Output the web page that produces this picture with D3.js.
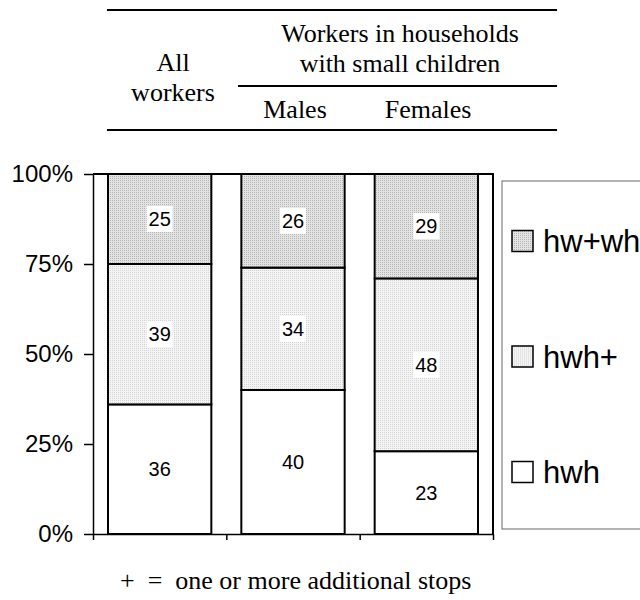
<!DOCTYPE html>
<html>
<head>
<meta charset="utf-8">
<script src="https://cdn.jsdelivr.net/npm/d3@7"></script>
<style>
  body { margin: 0; background: #fff; }
  svg { display: block; }
  .serif { font-family: "Liberation Serif", "Times New Roman", serif; }
  .sans { font-family: "Liberation Sans", Arial, sans-serif; }
</style>
</head>
<body>
<svg id="chart" width="640" height="600"></svg>
<script>
// groups on the x axis
const categories = ["All workers", "Males", "Females"];
// series (bottom to top)
const seriesNames = ["hwh", "hwh+", "hw+wh"];
const hwh      = [36, 40, 23];
const hwhPlus  = [39, 34, 48];
const hwPlusWh = [25, 26, 29];
const yTicks   = [0, 25, 50, 75, 100];

const rows = categories.map((c, i) => ({
  cat: c, "hwh": hwh[i], "hwh+": hwhPlus[i], "hw+wh": hwPlusWh[i]
}));

const svg = d3.select("#chart");

// fill patterns (dotted grey textures)
const defs = svg.append("defs");
function dotPattern(id, bg, dot) {
  const p = defs.append("pattern")
    .attr("id", id).attr("patternUnits", "userSpaceOnUse")
    .attr("width", 2).attr("height", 2);
  p.append("rect").attr("width", 2).attr("height", 2).attr("fill", bg);
  p.append("rect").attr("width", 1).attr("height", 1).attr("fill", dot);
}
dotPattern("pTop", "#e4e4e4", "#b4b4b4");
dotPattern("pMid", "#f4f4f4", "#d4d4d4");
const fills = { "hwh": "#ffffff", "hwh+": "url(#pMid)", "hw+wh": "url(#pTop)" };

// plot area
const plot = { left: 93, top: 174, right: 493, bottom: 534 };

const x = d3.scaleBand()
  .domain(categories)
  .range([plot.left, plot.right])
  .paddingInner(0.225)
  .paddingOuter(0.1125);

const xEdges = d3.scaleLinear().domain([0, categories.length]).range([plot.left, plot.right]);

const y = d3.scaleLinear().domain([0, 100]).range([plot.bottom, plot.top]);

// frame (top and right)
svg.append("path")
  .attr("d", `M${plot.left},${plot.top}H${plot.right}V${plot.bottom}`)
  .attr("fill", "none").attr("stroke", "#000").attr("stroke-width", 2);

// y axis
const yAxis = svg.append("g")
  .attr("transform", `translate(${plot.left},0)`)
  .call(d3.axisLeft(y).tickValues(yTicks).tickFormat(d => d + "%").tickSize(9).tickPadding(11).tickSizeOuter(0));
yAxis.selectAll("path, line").attr("stroke", "#000").attr("stroke-width", 1.5);
yAxis.selectAll("text").attr("class", "sans").attr("font-size", 24).attr("fill", "#000");

// x axis (ticks between groups)
const xAxis = svg.append("g")
  .attr("transform", `translate(0,${plot.bottom})`)
  .call(d3.axisBottom(xEdges).tickValues(d3.range(categories.length + 1)).tickFormat("").tickSize(6).tickSizeOuter(0));
xAxis.selectAll("path, line").attr("stroke", "#000").attr("stroke-width", 1.5);

// stacked bars
const stacked = d3.stack().keys(seriesNames)(rows);

const layers = svg.append("g").selectAll("g")
  .data(stacked)
  .join("g");

layers.selectAll("rect")
  .data(s => s.map(d => Object.assign(d, { key: s.key })))
  .join("rect")
  .attr("x", d => x(d.data.cat))
  .attr("y", d => y(d[1]))
  .attr("width", x.bandwidth())
  .attr("height", d => y(d[0]) - y(d[1]))
  .attr("fill", d => fills[d.key])
  .attr("stroke", "#000")
  .attr("stroke-width", 2);

// value labels with white boxes
const labels = svg.append("g").selectAll("g")
  .data(stacked.flatMap(s => s))
  .join("g")
  .attr("transform", d => `translate(${x(d.data.cat) + x.bandwidth() / 2},${y((d[0] + d[1]) / 2)})`);

labels.append("rect")
  .attr("x", -13).attr("y", -13).attr("width", 26).attr("height", 26)
  .attr("fill", "#fff");

labels.append("text")
  .attr("class", "sans")
  .attr("text-anchor", "middle")
  .attr("dy", "0.36em")
  .attr("font-size", 20)
  .text(d => d[1] - d[0]);

// legend
const legend = svg.append("g");
legend.append("rect")
  .attr("x", 502).attr("y", 181).attr("width", 200).attr("height", 348)
  .attr("fill", "#fff").attr("stroke", "#666").attr("stroke-width", 1);

const legendY = d3.scalePoint().domain(seriesNames.slice().reverse()).range([241, 472]);

const items = legend.selectAll("g")
  .data(seriesNames)
  .join("g")
  .attr("transform", d => `translate(512,${legendY(d)})`);

items.append("rect")
  .attr("x", 0).attr("y", -10.5).attr("width", 21).attr("height", 21)
  .attr("fill", d => fills[d])
  .attr("stroke", "#000").attr("stroke-width", 1.5);

items.append("text")
  .attr("class", "sans")
  .attr("x", 31).attr("dy", "0.36em")
  .attr("font-size", 31)
  .text(d => d);

// column header table
const head = svg.append("g").attr("class", "serif").attr("font-size", 26).attr("text-anchor", "middle");
head.append("line").attr("x1", 107).attr("x2", 557).attr("y1", 10).attr("y2", 10).attr("stroke", "#000").attr("stroke-width", 2);
head.append("line").attr("x1", 238).attr("x2", 557).attr("y1", 86).attr("y2", 86).attr("stroke", "#000").attr("stroke-width", 2);
head.append("line").attr("x1", 107).attr("x2", 557).attr("y1", 130).attr("y2", 130).attr("stroke", "#000").attr("stroke-width", 2);

head.append("text").attr("x", 173).attr("y", 71).text("All");
head.append("text").attr("x", 173).attr("y", 101).text("workers");
head.append("text").attr("x", 400).attr("y", 42).text("Workers in households");
head.append("text").attr("x", 400).attr("y", 72).text("with small children");
head.append("text").attr("x", 295).attr("y", 118).text("Males");
head.append("text").attr("x", 428).attr("y", 118).text("Females");

// footnote
svg.append("text")
  .attr("class", "serif")
  .attr("x", 120).attr("y", 589)
  .attr("font-size", 26)
  .style("white-space", "pre")
  .text("+  =  one or more additional stops");
</script>
</body>
</html>
